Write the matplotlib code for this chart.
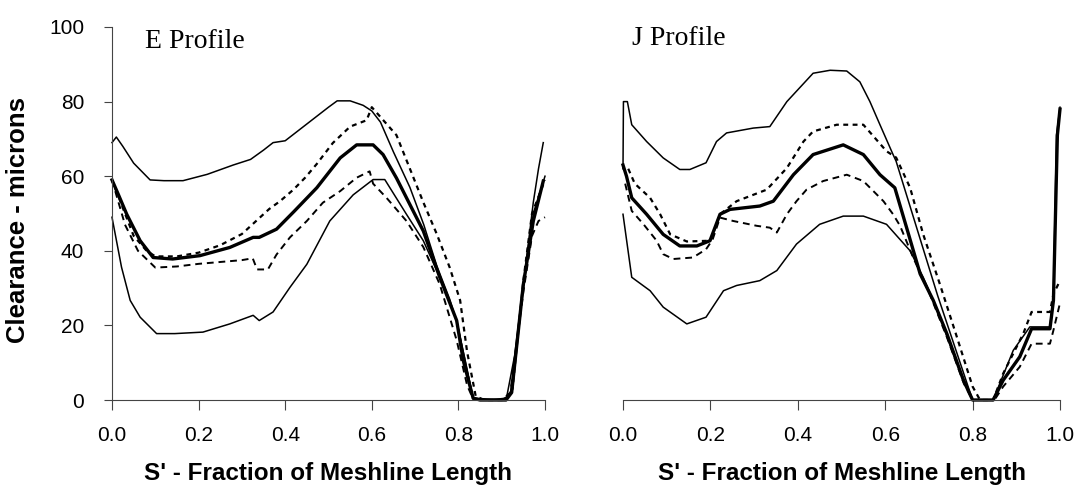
import matplotlib
matplotlib.use("Agg")
import matplotlib.pyplot as plt

# ---------------- data ----------------
# E Profile
e_max_x = [0, 0.01, 0.025, 0.05, 0.088, 0.12, 0.164, 0.22, 0.28, 0.32, 0.35, 0.372, 0.40, 0.45, 0.50, 0.52,
           0.55, 0.58, 0.60, 0.62, 0.65, 0.688, 0.72, 0.75, 0.78, 0.796, 0.815, 0.834, 0.87, 0.911, 0.93,
           0.95, 0.973, 0.985, 0.996]
e_max_y = [69, 70.5, 68, 63.5, 59, 58.8, 58.8, 60.5, 63, 64.5, 67, 69, 69.5, 74, 78.5, 80.2,
           80.2, 79, 77.5, 74.5, 66.5, 57, 47, 36, 27, 21, 11, 0.5, 0, 0.5, 12,
           31, 53, 62, 69]

e_up_x = [0, 0.02, 0.05, 0.08, 0.1, 0.15, 0.2, 0.25, 0.3, 0.363, 0.388, 0.419, 0.446, 0.473, 0.51, 0.55,
          0.588, 0.6, 0.657, 0.688, 0.719, 0.75, 0.78, 0.804, 0.82, 0.84, 0.86, 0.91, 0.925, 0.95, 0.97, 1.0]
e_up_y = [59, 53, 44, 40, 38.5, 38.5, 39.5, 41.5, 44.5, 51.2, 53.3, 56.4, 59.6, 63.3, 68.9, 73.3,
          75, 78.5, 71, 62, 53, 44.5, 35.5, 26.7, 13, 1, 0, 0, 3, 32, 50, 59]

e_mean_x = [0, 0.015, 0.034, 0.065, 0.095, 0.14, 0.203, 0.272, 0.326, 0.34, 0.38, 0.42, 0.473, 0.527,
            0.565, 0.603, 0.626, 0.657, 0.688, 0.719, 0.757, 0.796, 0.811, 0.834, 0.85, 0.91, 0.923,
            0.95, 0.973, 0.996]
e_mean_y = [59, 55, 49.8, 42.7, 38.2, 37.8, 38.7, 40.9, 43.6, 43.6, 45.8, 50.5, 56.9, 64.9,
            68.4, 68.4, 65.8, 59.5, 52.4, 45.3, 32.9, 21.3, 10.7, 0.5, 0, 0, 2,
            31, 48, 58.7]

e_lo_x = [0, 0.03, 0.06, 0.1, 0.15, 0.2, 0.25, 0.3, 0.325, 0.335, 0.36, 0.38, 0.411, 0.45, 0.487, 0.527,
          0.565, 0.595, 0.603, 0.634, 0.68, 0.719, 0.757, 0.796, 0.82, 0.835, 0.9, 0.92, 0.95, 0.97,
          0.985, 1.0]
e_lo_y = [59, 47, 40, 35.5, 35.8, 36.5, 37, 37.5, 38, 35, 35, 39, 43.6, 48, 52.9, 56,
          59.6, 61.3, 58, 54.2, 48, 41, 31, 16, 4, 0, 0, 2, 29, 44,
          48, 49]

e_min_x = [0, 0.022, 0.042, 0.065, 0.103, 0.145, 0.21, 0.272, 0.326, 0.34, 0.372, 0.411, 0.45, 0.503,
           0.557, 0.603, 0.63, 0.68, 0.719, 0.757, 0.796, 0.82, 0.834, 0.9, 0.92, 0.95, 0.973, 1.0]
e_min_y = [49, 35.6, 26.7, 22.2, 17.8, 17.8, 18.2, 20.4, 22.7, 21.3, 23.6, 30.2, 36.4, 48,
           55, 59.1, 59.1, 49.8, 42.7, 32.9, 21.3, 8, 0.5, 0, 1.5, 30, 50, 60]

# J Profile
j_max_x = [0, 0.001, 0.01, 0.02, 0.054, 0.092, 0.13, 0.153, 0.19, 0.214, 0.237, 0.298, 0.336, 0.375,
           0.435, 0.474, 0.512, 0.542, 0.565, 0.588, 0.618, 0.625, 0.72, 0.76, 0.80, 0.847, 0.893, 0.931,
           0.977, 0.985, 0.992, 1.0]
j_max_y = [62, 80, 80, 73.8, 69.3, 64.9, 61.8, 61.8, 63.6, 69.3, 71.6, 72.9, 73.3, 80,
           87.6, 88.4, 88.2, 85.3, 80, 73.8, 65.8, 64, 28, 14, 0, 0, 13.3, 19.6,
           19.6, 28.4, 71, 78.5]

j_up_x = [0.012, 0.027, 0.062, 0.085, 0.108, 0.146, 0.2, 0.222, 0.26, 0.329, 0.375, 0.413, 0.435, 0.489,
          0.55, 0.603, 0.625, 0.657, 0.687, 0.725, 0.764, 0.80, 0.817, 0.847, 0.87, 0.916, 0.935, 0.977,
          0.985, 1.0]
j_up_y = [62, 58, 54.2, 49.8, 44.4, 42.5, 42.7, 49.8, 53.3, 56.4, 62.2, 69.3, 72, 73.8,
          73.8, 66.7, 65, 56.9, 44.4, 31.1, 16.9, 3.6, 0, 0, 7.1, 17.8, 23.6, 23.6,
          28.4, 32]

j_mean_x = [0, 0.008, 0.02, 0.054, 0.092, 0.13, 0.169, 0.199, 0.222, 0.245, 0.313, 0.344, 0.39, 0.435,
            0.504, 0.55, 0.588, 0.622, 0.649, 0.68, 0.71, 0.741, 0.779, 0.80, 0.847, 0.87, 0.908, 0.935,
            0.977, 0.985, 0.994, 1.0]
j_mean_y = [63, 60, 54.2, 49.8, 44.4, 41.3, 41.3, 42.7, 49.8, 51.1, 52, 53.3, 60.4, 65.8,
            68.4, 65.8, 60.4, 56.9, 46.2, 33.8, 26.7, 17.8, 5.3, 0, 0, 5.3, 11.6, 19.1,
            19.1, 26.7, 71, 78]

j_lo_x = [0.005, 0.02, 0.047, 0.077, 0.092, 0.115, 0.16, 0.19, 0.205, 0.222, 0.252, 0.306, 0.336, 0.352,
          0.375, 0.397, 0.42, 0.458, 0.512, 0.55, 0.596, 0.618, 0.634, 0.664, 0.702, 0.741, 0.78, 0.80,
          0.85, 0.87, 0.908, 0.935, 0.977, 0.985, 1.0]
j_lo_y = [58, 50.7, 47.1, 42.7, 39.1, 37.8, 38.2, 40.4, 43, 48.9, 48, 46.7, 46.2, 44.9,
          49.8, 53.3, 56.4, 58.7, 60.4, 58.7, 53.3, 49.8, 46.7, 38.2, 28.4, 16.9, 4.4, 0,
          0, 3.6, 8.9, 15.1, 15.1, 18.7, 26]

j_min_x = [0, 0.02, 0.062, 0.092, 0.146, 0.19, 0.23, 0.26, 0.313, 0.352, 0.397, 0.45, 0.504, 0.55,
           0.603, 0.657, 0.687, 0.72, 0.76, 0.80, 0.847]
j_min_y = [49.8, 32.9, 29.3, 24.9, 20.4, 22.2, 29.3, 30.7, 32, 34.7, 41.8, 47.1, 49.3, 49.3,
           47.1, 40, 32.9, 24, 11, 0, 0]

x_ticks = [0.0, 0.2, 0.4, 0.6, 0.8, 1.0]
x_tick_labels = ["0.0", "0.2", "0.4", "0.6", "0.8", "1.0"]
y_ticks = [0, 20, 40, 60, 80, 100]
y_tick_labels = ["0", "20", "40", "60", "80", "100"]
panel_titles = ["E Profile", "J Profile"]
x_label = "S' - Fraction of Meshline Length"
y_label = "Clearance - microns"

# ---------------- plot ----------------
plt.rcParams['font.family'] = ['Liberation Sans', 'DejaVu Sans']
fig = plt.figure(figsize=(10.8, 4.88), dpi=100)

axL = fig.add_axes([112 / 1080, 88 / 488, 433 / 1080, 373 / 488])
axR = fig.add_axes([623 / 1080, 88 / 488, 437 / 1080, 373 / 488])

thin = dict(color='black', lw=1.1, solid_joinstyle='round')
mean = dict(color='black', lw=2.4, solid_joinstyle='round')
upper = dict(color='black', lw=1.6, linestyle=(0, (2.2, 2.0)))
lower = dict(color='black', lw=1.4, linestyle=(0, (3.5, 2.5)))

panels = [
    (axL, (e_max_x, e_max_y), (e_up_x, e_up_y), (e_mean_x, e_mean_y), (e_lo_x, e_lo_y), (e_min_x, e_min_y)),
    (axR, (j_max_x, j_max_y), (j_up_x, j_up_y), (j_mean_x, j_mean_y), (j_lo_x, j_lo_y), (j_min_x, j_min_y)),
]

for i, (ax, mx, up, mn, lo, mi) in enumerate(panels):
    ax.plot(*mx, **thin)
    ax.plot(*up, **upper)
    ax.plot(*lo, **lower)
    ax.plot(*mi, **thin)
    ax.plot(*mn, **mean)
    ax.set_xlim(0, 1)
    ax.set_ylim(0, 100)
    ax.set_xticks(x_ticks)
    ax.set_xticklabels(x_tick_labels, fontsize=15)
    ax.tick_params(axis='x', direction='out', length=7, width=0.8, pad=12, color='#444444')
    for s in ['top', 'right']:
        ax.spines[s].set_visible(False)
    ax.spines['bottom'].set_linewidth(0.8)
    ax.spines['bottom'].set_color('#444444')
    ax.set_xlabel(x_label, fontsize=17.5, fontweight='bold', labelpad=12)
    ax.patch.set_alpha(0)
    for c in ax.lines:
        c.set_clip_on(False)

axL.set_yticks(y_ticks)
axL.set_yticklabels(y_tick_labels, fontsize=15)
axL.tick_params(axis='y', direction='out', length=6, width=0.8, pad=14, color='#444444')
axL.spines['left'].set_linewidth(0.8)
axL.spines['left'].set_color('#444444')

axR.spines['left'].set_visible(False)
axR.set_yticks([])

axL.text(0.076, 96, panel_titles[0], fontsize=20, family='Liberation Serif', va='center', ha='left')
axR.text(0.02, 96.8, panel_titles[1], fontsize=20, family='Liberation Serif', va='center', ha='left')

fig.text(18 / 1080, 1 - 220 / 488, y_label, rotation=90, fontsize=18.5, fontweight='bold',
         va='center', ha='center')

fig.savefig("out.png", dpi=100)
